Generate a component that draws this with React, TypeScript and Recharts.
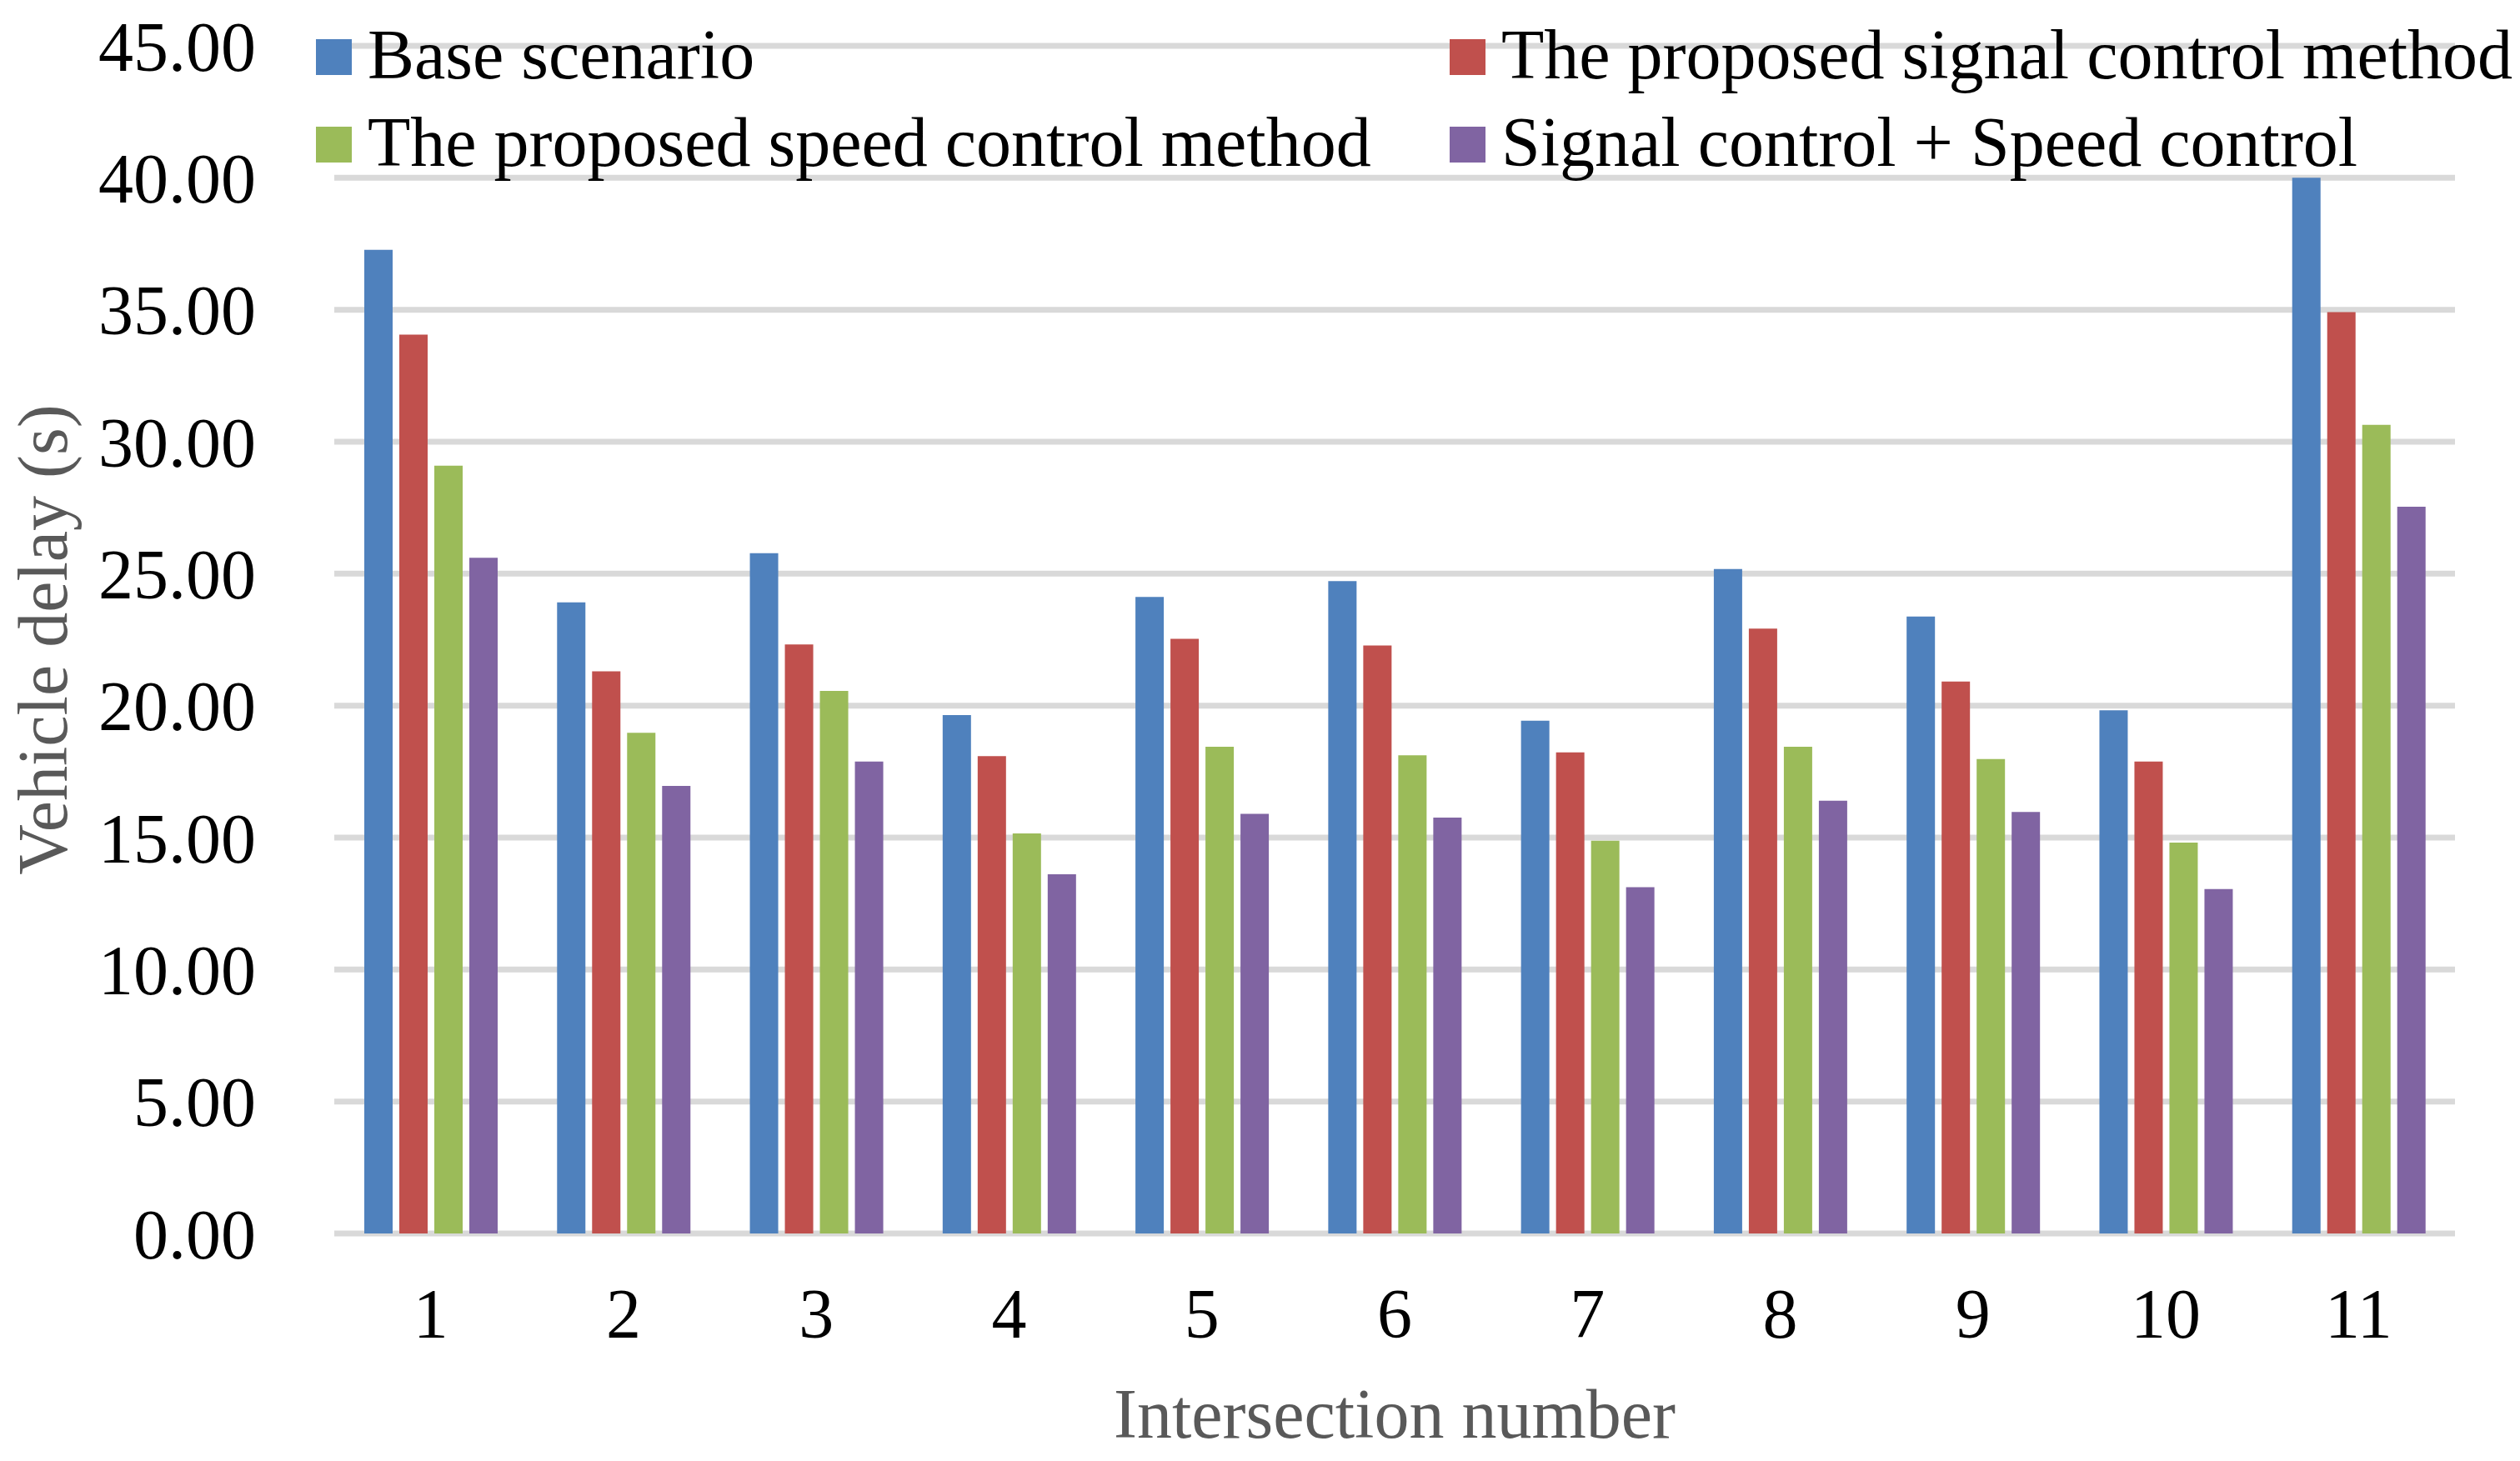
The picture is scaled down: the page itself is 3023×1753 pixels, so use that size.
import { BarChart, Bar, XAxis, YAxis, CartesianGrid, Legend } from "recharts";

const intersections = ["1", "2", "3", "4", "5", "6", "7", "8", "9", "10", "11"];
const baseScenario = [37.27, 23.91, 25.78, 19.64, 24.12, 24.72, 19.43, 25.18, 23.38, 19.82, 40.0];
const signalControl = [34.06, 21.3, 22.32, 18.09, 22.53, 22.28, 18.23, 22.92, 20.91, 17.88, 34.91];
const speedControl = [29.09, 18.97, 20.56, 15.16, 18.44, 18.12, 14.88, 18.44, 17.98, 14.81, 30.64];
const combinedControl = [25.6, 16.96, 17.88, 13.61, 15.9, 15.76, 13.12, 16.4, 15.97, 13.05, 27.54];
const yTicks = [0, 5, 10, 15, 20, 25, 30, 35, 40, 45];

const SERIES = [
  { key: "base", name: "Base scenario", color: "#4F81BD" },
  { key: "signal", name: "The proposed signal control method", color: "#C0504D" },
  { key: "speed", name: "The proposed speed control method", color: "#9BBB59" },
  { key: "combined", name: "Signal control + Speed control", color: "#8064A2" },
];

const data = intersections.map((name, i) => ({
  name,
  base: baseScenario[i],
  signal: signalControl[i],
  speed: speedControl[i],
  combined: combinedControl[i],
}));

const FONT = "Liberation Serif";
const W = 3023;
const H = 1753;

// legend grid: 2 columns x 2 rows, sits over the top of the plot
const LEG_COLS = [379, 1739];
const LEG_ROWS = [47, 152];

function LegendBox() {
  return (
    <div style={{ position: "relative", width: W, height: 220 }}>
      {SERIES.map((s, i) => (
        <div
          key={s.key}
          style={{
            position: "absolute",
            left: LEG_COLS[i % 2],
            top: LEG_ROWS[Math.floor(i / 2)],
            height: 43,
            display: "flex",
            alignItems: "center",
            gap: 19,
            whiteSpace: "nowrap",
          }}
        >
          <span style={{ width: 43, height: 43, background: s.color, display: "inline-block" }} />
          <span style={{ fontFamily: FONT, fontSize: 84, lineHeight: 1, color: "#000", position: "relative", top: -3 }}>
            {s.name}
          </span>
        </div>
      ))}
    </div>
  );
}

function XTitle({ viewBox }: any) {
  const { x, y, width } = viewBox;
  return (
    <text x={x + width / 2} y={y + 245} textAnchor="middle" fontFamily={FONT} fontSize={84} fill="#595959">
      Intersection number
    </text>
  );
}

function YTitle({ viewBox }: any) {
  const { y, height } = viewBox;
  const cx = 80;
  const cy = y + height / 2;
  return (
    <text x={cx} y={cy} transform={`rotate(-90, ${cx}, ${cy})`} textAnchor="middle" fontFamily={FONT} fontSize={84} fill="#595959">
      Vehicle delay (s)
    </text>
  );
}

export default function App() {
  return (
    <div style={{ position: "absolute", left: 0, top: 0, width: W, height: H, background: "#fff" }}>
      <BarChart width={W} height={H} data={data} margin={{ top: 55, right: 78, bottom: 0, left: 0 }} barSize={34} barGap={8}>
        <CartesianGrid vertical={false} stroke="#D9D9D9" strokeWidth={7} />
        <XAxis
          dataKey="name"
          height={273}
          axisLine={false}
          tickLine={false}
          tickSize={0}
          tickMargin={65}
          tick={{ fontFamily: FONT, fontSize: 84, fill: "#000" }}
          label={<XTitle />}
        />
        <YAxis
          width={401}
          domain={[0, 45]}
          ticks={yTicks}
          axisLine={false}
          tickLine={false}
          tickSize={0}
          tickMargin={94}
          tickFormatter={(v: number) => v.toFixed(2)}
          tick={{ fontFamily: FONT, fontSize: 84, fill: "#000" }}
          label={<YTitle />}
        />
        <Legend
          layout="horizontal"
          verticalAlign="middle"
          align="center"
          wrapperStyle={{ top: 0, left: 0, width: W }}
          content={() => <LegendBox />}
        />
        {SERIES.map((s) => (
          <Bar key={s.key} dataKey={s.key} name={s.name} fill={s.color} isAnimationActive={false} />
        ))}
      </BarChart>
    </div>
  );
}
